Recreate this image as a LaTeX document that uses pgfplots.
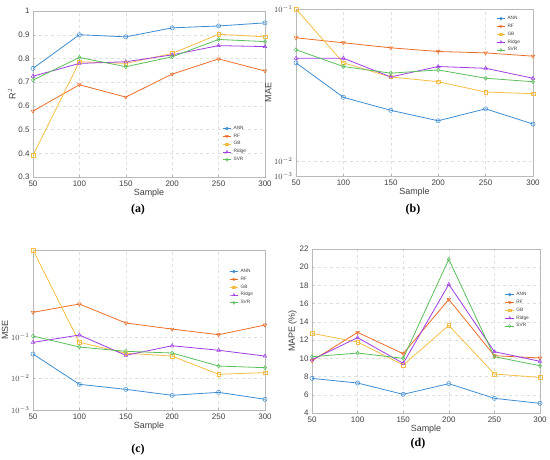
\documentclass[border=0pt]{standalone}
\usepackage{pgfplots}
\pgfplotsset{compat=1.18}
\usepackage{fontspec}
\setmainfont{Liberation Sans}
\newfontfamily\capfont{Liberation Serif}
\definecolor{cANN}{RGB}{60,140,210}
\definecolor{cRF}{RGB}{235,110,40}
\definecolor{cGB}{RGB}{245,190,70}
\definecolor{cRidge}{RGB}{160,60,230}
\definecolor{cSVR}{RGB}{90,190,90}
\definecolor{txt}{RGB}{64,64,64}
\pgfplotsset{
  panel/.style={
    scale only axis,
    xmin=50, xmax=300,
    xtick={50,100,150,200,250,300},
    grid=major,
    grid style={dashed, gray!25, line width=0.4pt},
    axis line style={gray!55, line width=0.5pt},
    tick style={gray!60, line width=0.4pt},
    major tick length=2bp,
    tick align=inside,
    ticklabel style={font=\fontsize{8}{9}\selectfont, text=txt},
    label style={font=\fontsize{9}{10}\selectfont, text=txt},
    xlabel={Sample},
    xlabel style={yshift=4bp},
    ylabel style={yshift=-4bp},
    xtick pos=bottom, ytick pos=left,
    /pgf/number format/assume math mode=true,
    every axis plot/.append style={line width=0.8pt, mark size=2.1bp},
    legend style={draw=none, fill=none, font=\fontsize{4.8}{5}\selectfont, text=txt,
      inner sep=0pt, row sep=-1pt, cells={anchor=west}},
    legend cell align=left,
    legend image code/.code={
      \draw[mark repeat=2,mark phase=2, mark size=1.5bp] plot coordinates {(0cm,0cm) (0.15cm,0cm) (0.3cm,0cm)};
    },
  },
  ann/.style={color=cANN, mark=o, mark options={solid, fill=white, line width=0.5pt}},
  rf/.style={color=cRF, mark=triangle, mark options={solid, fill=white, line width=0.5pt, rotate=180}},
  gb/.style={color=cGB, mark=square, mark options={solid, fill=white, line width=0.5pt, scale=0.85}},
  ridge/.style={color=cRidge, mark=triangle, mark options={solid, fill=white, line width=0.5pt}},
  svr/.style={color=cSVR, mark=diamond, mark options={solid, fill=white, line width=0.5pt}},
}
\begin{document}
\begin{tikzpicture}
\useasboundingbox (0bp,0bp) rectangle (550bp,-460bp);
% (a)
\begin{axis}[panel, at={(33bp,-177bp)}, anchor=south west, width=232bp, height=166bp,
  ymin=0.3, ymax=1, ytick={0.3,0.4,0.5,0.6,0.7,0.8,0.9,1},
  ylabel={R$^2$},
  legend style={at={(0.815,0.32)}, anchor=north west}]
\addplot[ann] coordinates {(50,0.758) (100,0.900) (150,0.891) (200,0.929) (250,0.937) (300,0.950)};
\addplot[rf] coordinates {(50,0.578) (100,0.689) (150,0.637) (200,0.734) (250,0.798) (300,0.747)};
\addplot[gb] coordinates {(50,0.391) (100,0.786) (150,0.779) (200,0.821) (250,0.902) (300,0.891)};
\addplot[ridge] coordinates {(50,0.725) (100,0.779) (150,0.786) (200,0.815) (250,0.854) (300,0.850)};
\addplot[svr] coordinates {(50,0.709) (100,0.804) (150,0.765) (200,0.807) (250,0.880) (300,0.871)};
\legend{ANN,RF,GB,Ridge,SVR}
\end{axis}
% (b)
\begin{axis}[panel, at={(296bp,-176bp)}, anchor=south west, width=237bp, height=167bp,
  ymode=log, ymin=0.008, ymax=0.1, ytick={0.008,0.01,0.1},
  yticklabels={$10^{-3}$,$10^{-2}$,$10^{-1}$}, minor ytick={},
  ylabel={MAE},
  legend style={at={(0.844,0.97)}, anchor=north west}]
\addplot[ann] coordinates {(50,0.0443) (100,0.0263) (150,0.0216) (200,0.01845) (250,0.0221) (300,0.01755)};
\addplot[rf] coordinates {(50,0.0647) (100,0.0600) (150,0.0556) (200,0.0526) (250,0.0515) (300,0.0490)};
\addplot[gb] coordinates {(50,0.1) (100,0.0443) (150,0.0358) (200,0.0333) (250,0.0285) (300,0.0278)};
\addplot[ridge] coordinates {(50,0.0475) (100,0.0475) (150,0.0358) (200,0.0419) (250,0.0408) (300,0.0351)};
\addplot[svr] coordinates {(50,0.0540) (100,0.0419) (150,0.0379) (200,0.0398) (250,0.0351) (300,0.0333)};
\legend{ANN,RF,GB,Ridge,SVR}
\end{axis}
% (c)
\begin{axis}[panel, at={(33bp,-410bp)}, anchor=south west, width=232bp, height=160bp,
  ymode=log, ymin=0.00168, ymax=12.6, ytick={0.00168,0.01,0.1},
  yticklabels={$10^{-3}$,$10^{-2}$,$10^{-1}$}, minor ytick={},
  ylabel={MSE},
  legend style={at={(0.845,0.894)}, anchor=north west}]
\addplot[ann] coordinates {(50,0.0381) (100,0.00703) (150,0.00532) (200,0.00381) (250,0.0045) (300,0.00305)};
\addplot[rf] coordinates {(50,0.39) (100,0.62) (150,0.215) (200,0.153) (250,0.112) (300,0.192)};
\addplot[gb] coordinates {(50,12.6) (100,0.0731) (150,0.040) (200,0.034) (250,0.0123) (300,0.0135)};
\addplot[ridge] coordinates {(50,0.073) (100,0.11) (150,0.0355) (200,0.0605) (250,0.047) (300,0.034)};
\addplot[svr] coordinates {(50,0.104) (100,0.0563) (150,0.0443) (200,0.0403) (250,0.0195) (300,0.0178)};
\legend{ANN,RF,GB,Ridge,SVR}
\end{axis}
% (d)
\begin{axis}[panel, at={(312bp,-413bp)}, anchor=south west, width=228bp, height=164bp,
  ymin=4, ymax=22, ytick={4,6,8,10,12,14,16,18,20,22},
  ylabel={MAPE (\%)},
  legend style={at={(0.846,0.75)}, anchor=north west}]
\addplot[ann] coordinates {(50,7.80) (100,7.29) (150,6.05) (200,7.22) (250,5.61) (300,5.06)};
\addplot[rf] coordinates {(50,9.74) (100,12.85) (150,10.51) (200,16.47) (250,10.29) (300,10.04)};
\addplot[gb] coordinates {(50,12.74) (100,11.79) (150,9.27) (200,13.62) (250,8.28) (300,7.91)};
\addplot[ridge] coordinates {(50,9.85) (100,12.27) (150,9.45) (200,18.12) (250,10.73) (300,9.67)};
\addplot[svr] coordinates {(50,10.18) (100,10.58) (150,10.00) (200,20.87) (250,10.18) (300,9.19)};
\legend{ANN,RF,GB,Ridge,SVR}
\end{axis}
\node[font=\capfont\bfseries\fontsize{12}{13}\selectfont] at (138bp,-210bp) {(a)};
\node[font=\capfont\bfseries\fontsize{12}{13}\selectfont] at (413bp,-210bp) {(b)};
\node[font=\capfont\bfseries\fontsize{12}{13}\selectfont] at (138bp,-450bp) {(c)};
\node[font=\capfont\bfseries\fontsize{12}{13}\selectfont] at (418bp,-444bp) {(d)};
\end{tikzpicture}
\end{document}
